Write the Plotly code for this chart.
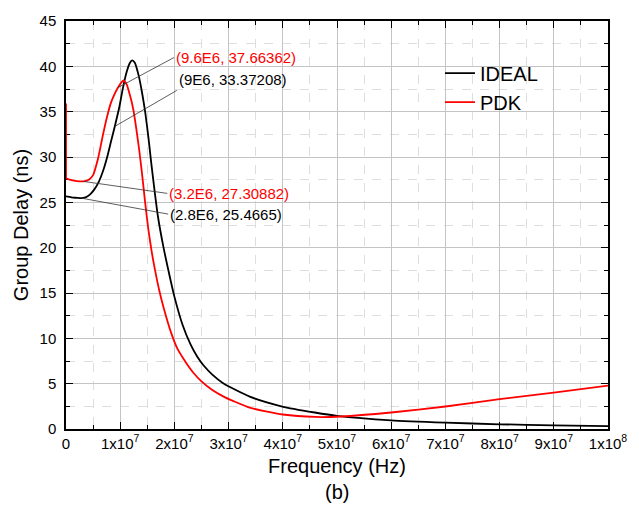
import plotly.graph_objects as go

# Group delay of the filter: ideal model vs. PDK model
ideal_freq = [0, 1e6, 2e6, 2.8e6, 3.6e6, 4.4e6, 5.2e6, 6e6, 6.8e6, 7.6e6, 8.3e6, 9e6,
              9.8e6, 1.05e7, 1.12e7, 1.18e7, 1.22e7, 1.27e7, 1.34e7, 1.4e7, 1.46e7,
              1.52e7, 1.57e7, 1.64e7, 1.7e7, 1.8e7, 1.9e7, 2.0e7, 2.15e7, 2.3e7,
              2.42e7, 2.54e7, 2.7e7, 2.9e7, 3.39e7, 3.99e7, 4.59e7, 5e7, 6e7, 7e7,
              8e7, 9e7, 1e8]
ideal_gd = [25.65, 25.55, 25.5, 25.4665, 25.55, 25.85, 26.4, 27.2, 28.4, 30.0, 31.7,
            33.37208, 35.4, 37.6, 39.4, 40.4, 40.65, 40.4, 39.0, 37.2, 35.0, 32.2,
            29.5, 26.0, 23.3, 20.0, 17.2, 14.6, 11.5, 9.3, 8.0, 7.0, 6.0, 5.05,
            3.57, 2.48, 1.82, 1.45, 0.95, 0.7, 0.52, 0.4, 0.32]

pdk_freq = [0, 0, 1e6, 2e6, 3.2e6, 4.2e6, 5e6, 5.9e6, 6.8e6, 7.6e6, 8.3e6, 9.0e6,
            9.6e6, 1.02e7, 1.06e7, 1.12e7, 1.18e7, 1.24e7, 1.3e7, 1.35e7, 1.4e7,
            1.46e7, 1.52e7, 1.58e7, 1.64e7, 1.72e7, 1.8e7, 1.94e7, 2.06e7, 2.2e7,
            2.35e7, 2.5e7, 2.7e7, 2.9e7, 3.1e7, 3.39e7, 4e7, 4.6e7, 5.07e7, 6e7,
            7e7, 8e7, 9e7, 1e8]
pdk_gd = [35.9, 27.65, 27.45, 27.35, 27.30882, 27.5, 28.0, 29.8, 32.4, 34.5, 36.0,
          37.0, 37.66362, 38.2, 38.45, 38.0, 36.8, 35.3, 33.0, 30.8, 28.3, 25.0,
          22.0, 19.6, 17.6, 15.3, 13.4, 10.6, 8.8, 7.45, 6.2, 5.25, 4.3, 3.6, 3.05,
          2.35, 1.6, 1.33, 1.38, 1.82, 2.48, 3.29, 4.0, 4.78]

# Marked points and their labels
marked_freq = [9.6e6, 9e6, 3.2e6, 2.8e6]
marked_gd = [37.66362, 33.37208, 27.30882, 25.4665]
marked_text = ["(9.6E6, 37.66362)", "(9E6, 33.37208)", "(3.2E6, 27.30882)", "(2.8E6, 25.4665)"]
marked_color = ["#ff0000", "#000000", "#ff0000", "#000000"]
label_offset = [(56, -30, "middle"), (62, -36, "bottom"), (84, 12, "middle"), (87, 16, "middle")]

x_ticks = [0] + [k * 1e7 for k in range(1, 11)]
x_ticktext = ["0"] + [f"{k}x10<sup>7</sup>" for k in range(1, 10)] + ["1x10<sup>8</sup>"]

FONT = "Liberation Sans, Arial, sans-serif"

fig = go.Figure()

fig.add_trace(go.Scatter(x=ideal_freq, y=ideal_gd, mode="lines", name="IDEAL",
                         line=dict(color="#000000", width=1.8, shape="spline", smoothing=0.6)))
# vertical start-up transient of the PDK curve at f = 0
fig.add_trace(go.Scatter(x=pdk_freq[:2], y=pdk_gd[:2], mode="lines", showlegend=False,
                         line=dict(color="#ff0000", width=1.8), hoverinfo="skip"))
fig.add_trace(go.Scatter(x=pdk_freq[1:], y=pdk_gd[1:], mode="lines", name="PDK",
                         line=dict(color="#ff0000", width=1.8, shape="spline", smoothing=0.6)))

for fx, gy, txt, col, (ax, ay, ya) in zip(marked_freq, marked_gd, marked_text,
                                           marked_color, label_offset):
    fig.add_annotation(x=fx, y=gy, text=txt, showarrow=True, arrowhead=0,
                       arrowwidth=0.8, arrowcolor="#333333", ax=ax, ay=ay,
                       xanchor="left", yanchor=ya, standoff=0, startstandoff=0,
                       font=dict(family=FONT, size=15, color=col))

fig.add_annotation(text="(b)", xref="paper", yref="paper", x=0.5, y=-0.155,
                   xanchor="center", yanchor="middle", showarrow=False,
                   font=dict(family=FONT, size=20, color="#000000"))

axis_common = dict(
    showline=True, linecolor="#000000", linewidth=1.5, mirror="allticks",
    ticks="inside", ticklen=7, tickwidth=1.2, tickcolor="#000000",
    showgrid=True, gridcolor="#c4c4c4", gridwidth=1, zeroline=False,
    layer="below traces",
    tickfont=dict(family=FONT, size=15, color="#000000"),
)

fig.update_xaxes(
    range=[0, 1e8], tickvals=x_ticks, ticktext=x_ticktext,
    minor=dict(dtick=5e6, tick0=0, ticks="inside", ticklen=4, tickcolor="#000000",
               showgrid=True, gridcolor="#dedede", griddash="dash", gridwidth=1),
    title=dict(text="Frequency (Hz)", font=dict(family=FONT, size=20, color="#000000"),
               standoff=8),
    **axis_common,
)
fig.update_yaxes(
    range=[0, 45], dtick=5, tick0=0, ticklabelstandoff=5,
    minor=dict(dtick=2.5, tick0=0, ticks="inside", ticklen=4, tickcolor="#000000",
               showgrid=True, gridcolor="#dedede", griddash="dash", gridwidth=1),
    title=dict(text="Group Delay (ns)", font=dict(family=FONT, size=20, color="#000000"),
               standoff=6),
    **axis_common,
)

fig.update_layout(
    width=639, height=506,
    margin=dict(l=66, r=21, t=18, b=77),
    paper_bgcolor="#ffffff", plot_bgcolor="#ffffff",
    font=dict(family=FONT, color="#000000"),
    showlegend=True,
    legend=dict(x=0.69, y=0.92, xanchor="left", yanchor="top",
                bgcolor="rgba(0,0,0,0)", borderwidth=0,
                font=dict(family=FONT, size=20, color="#000000"),
                tracegroupgap=0),
)

fig.write_html("out.html")
